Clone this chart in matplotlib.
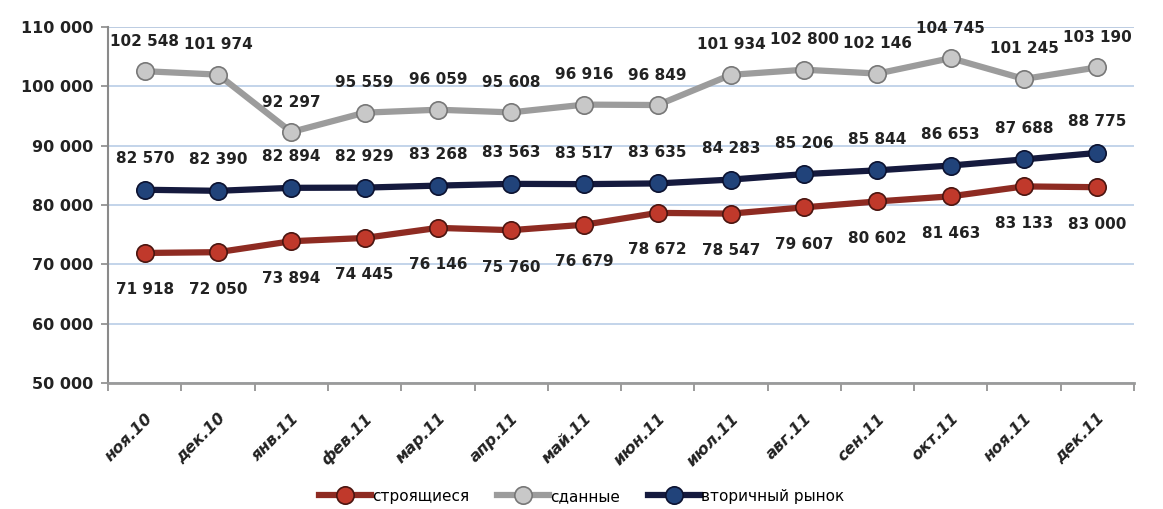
import matplotlib
matplotlib.use("Agg")
import matplotlib.pyplot as plt
from matplotlib.ticker import FixedLocator, FuncFormatter

months = ["ноя.10", "дек.10", "янв.11", "фев.11", "мар.11", "апр.11", "май.11",
          "июн.11", "июл.11", "авг.11", "сен.11", "окт.11", "ноя.11", "дек.11"]
building = [71918, 72050, 73894, 74445, 76146, 75760, 76679,
            78672, 78547, 79607, 80602, 81463, 83133, 83000]
finished = [102548, 101974, 92297, 95559, 96059, 95608, 96916,
            96849, 101934, 102800, 102146, 104745, 101245, 103190]
secondary = [82570, 82390, 82894, 82929, 83268, 83563, 83517,
             83635, 84283, 85206, 85844, 86653, 87688, 88775]
y_ticks = [50000, 60000, 70000, 80000, 90000, 100000, 110000]


def fmt(v):
    return f"{v:,}".replace(",", " ")


plt.rcParams["font.family"] = ["DejaVu Sans"]
fig = plt.figure(figsize=(11.63, 5.09), dpi=100)
ax = fig.add_axes([0.093, 0.2475, 0.882, 0.6995])

x = list(range(len(months)))

series = [
    # data, label, line colour, marker fill, marker edge, label offset (px)
    (building, "строящиеся", "#8e2b22", "#c0392b", "#4a1510", -37),
    (finished, "сданные", "#9c9c9c", "#c8c8c8", "#777777", 30),
    (secondary, "вторичный рынок", "#151a3e", "#21437a", "#0c1230", 31),
]

for data, name, lc, mf, me, off in series:
    ax.plot(x, data, color=lc, lw=4.5, marker="o", ms=12.5,
            mfc=mf, mec=me, mew=1.2, label=name, zorder=3,
            solid_joinstyle="round")
    for xi, v in zip(x, data):
        ax.annotate(fmt(v), (xi, v), xytext=(0, off), textcoords="offset pixels",
                    ha="center", va="center", fontsize=11, fontweight="bold",
                    color="#222222", zorder=4)

ax.set_xlim(-0.5, len(months) - 0.5)
ax.set_ylim(50000, 110000)
ax.yaxis.set_major_locator(FixedLocator(y_ticks))
ax.yaxis.set_major_formatter(FuncFormatter(lambda v, p: fmt(int(v))))
ax.grid(axis="y", color="#b9cde6", lw=1.2, zorder=0)

ax.set_xticks(x)
ax.set_xticklabels(months, rotation=45, ha="right", rotation_mode="anchor",
                   fontsize=11.5, fontweight="bold", fontstyle="italic",
                   color="#222222")
ax.set_xticks([i - 0.5 for i in range(len(months) + 1)], minor=True)
ax.tick_params(axis="x", which="major", length=0, pad=20)
ax.tick_params(axis="x", which="minor", length=6, color="#8a8a8a", width=1.2)
ax.tick_params(axis="y", length=5, color="#8a8a8a", width=1.2, labelsize=11.5,
               pad=6, labelcolor="#222222")
for lbl in ax.get_yticklabels():
    lbl.set_fontweight("bold")

for side in ["top", "right"]:
    ax.spines[side].set_visible(False)
ax.spines["left"].set_color("#8a8a8a")
ax.spines["left"].set_linewidth(1.5)
ax.spines["bottom"].set_color("#9a9a9a")
ax.spines["bottom"].set_linewidth(2)
ax.axhline(110000, color="#c8c8c8", lw=1.2, zorder=1)

fig.legend(loc="center", bbox_to_anchor=(0.5, 0.025), ncol=3, frameon=False,
           fontsize=11, handlelength=3.4, handletextpad=0.1, columnspacing=1.8)

fig.savefig("out.png", dpi=100)
